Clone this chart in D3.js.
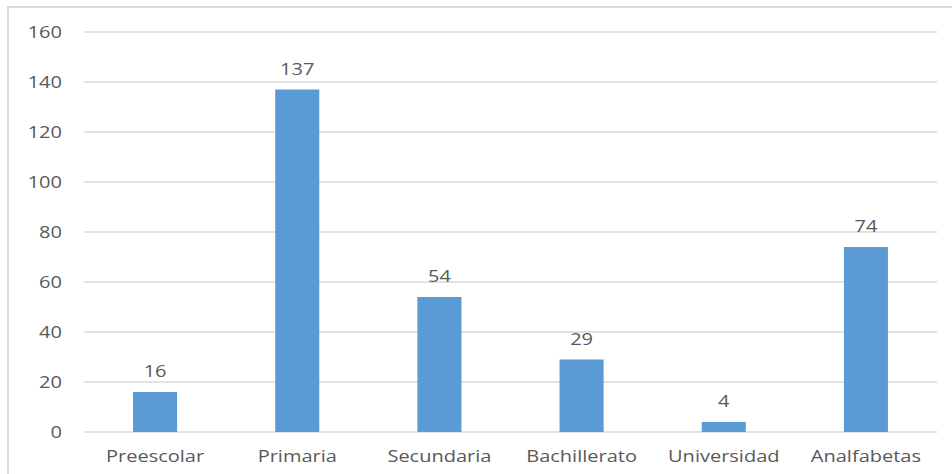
<!DOCTYPE html>
<html>
<head>
<meta charset="utf-8">
<script src="https://cdn.jsdelivr.net/npm/d3@7"></script>
<style>
  body { margin: 0; background: #fff; }
  text { font-family: "Open Sans", sans-serif; fill: #595959; }
</style>
</head>
<body>
<div id="chart"></div>
<script>
// data
var categories = ["Preescolar", "Primaria", "Secundaria", "Bachillerato", "Universidad", "Analfabetas"];
var values = [16, 137, 54, 29, 4, 74];
var yTicks = [0, 20, 40, 60, 80, 100, 120, 140, 160];

var W = 952, H = 474;
var margin = {top: 32, right: 15, bottom: 42, left: 84},
    width = W - margin.left - margin.right,
    height = H - margin.top - margin.bottom;

var sx = 1.25; // horizontal stretch of the text

var svg = d3.select("#chart").append("svg")
    .attr("width", W)
    .attr("height", H);

// chart frame
svg.append("rect")
    .attr("x", 8).attr("y", 7)
    .attr("width", W + 10).attr("height", H + 10)
    .attr("fill", "none")
    .attr("stroke", "#d9d9d9")
    .attr("stroke-width", 2);

var g = svg.append("g")
    .attr("transform", "translate(" + margin.left + "," + margin.top + ")");

var x = d3.scaleBand().domain(categories).range([0, width]).paddingInner(0.69).paddingOuter(0.345);
var y = d3.scaleLinear().domain([0, 160]).range([height, 0]);

// gridlines
g.selectAll(".grid")
    .data(yTicks)
  .enter().append("line")
    .attr("x1", 0).attr("x2", width)
    .attr("y1", function(d) { return y(d); })
    .attr("y2", function(d) { return y(d); })
    .attr("stroke", "#d9d9d9")
    .attr("stroke-width", 1.5);

// y tick labels
g.selectAll(".ytick")
    .data(yTicks)
  .enter().append("text")
    .attr("transform", function(d) { return "translate(-22," + y(d) + ") scale(" + sx + ",1)"; })
    .attr("dy", "0.35em")
    .attr("text-anchor", "end")
    .style("font-size", "16px")
    .text(function(d) { return d; });

var data = categories.map(function(c, i) { return {cat: c, val: values[i]}; });

// bars
g.selectAll(".bar")
    .data(data)
  .enter().append("rect")
    .attr("x", function(d) { return x(d.cat); })
    .attr("width", x.bandwidth())
    .attr("y", function(d) { return y(d.val); })
    .attr("height", function(d) { return height - y(d.val); })
    .attr("fill", "#5b9bd5");

// value labels
g.selectAll(".val")
    .data(data)
  .enter().append("text")
    .attr("transform", function(d) {
      return "translate(" + (x(d.cat) + x.bandwidth() / 2) + "," + (y(d.val) - 15) + ") scale(" + sx + ",1)";
    })
    .attr("text-anchor", "middle")
    .style("font-size", "16px")
    .text(function(d) { return d.val; });

// category labels
g.selectAll(".cat")
    .data(data)
  .enter().append("text")
    .attr("transform", function(d) {
      return "translate(" + (x(d.cat) + x.bandwidth() / 2) + "," + (height + 30) + ") scale(" + sx + ",1)";
    })
    .attr("text-anchor", "middle")
    .style("font-size", "16px")
    .text(function(d) { return d.cat; });
</script>
</body>
</html>
